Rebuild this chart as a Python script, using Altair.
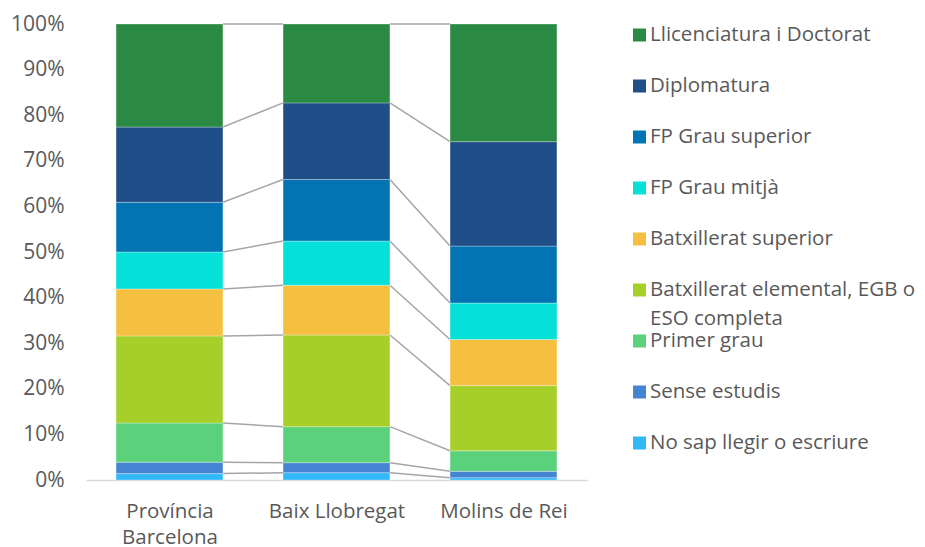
import json
import altair as alt
import pandas as pd

# ---- data ----
categories = ["Província\nBarcelona", "Baix Llobregat", "Molins de Rei"]
series = [
    "No sap llegir o escriure",
    "Sense estudis",
    "Primer grau",
    "Batxillerat elemental, EGB o ESO completa",
    "Batxillerat superior",
    "FP Grau mitjà",
    "FP Grau superior",
    "Diplomatura",
    "Llicenciatura i Doctorat",
]
prov_barcelona = [1.4, 2.5, 8.6, 19.1, 10.3, 8.1, 10.9, 16.5, 22.6]
baix_llobregat = [1.6, 2.2, 7.9, 20.1, 10.9, 9.7, 13.5, 16.8, 17.3]
molins_de_rei = [0.5, 1.4, 4.5, 14.3, 10.1, 8.0, 12.5, 22.9, 25.8]
colors = ["#30B8F8", "#4584D3", "#5BD17B", "#A6CF2A", "#F5BF40",
          "#05E0D8", "#0274B3", "#204E89", "#2A8A43"]
y_ticks = [0, 0.1, 0.2, 0.3, 0.4, 0.5, 0.6, 0.7, 0.8, 0.9, 1.0]

values = [prov_barcelona, baix_llobregat, molins_de_rei]
HALF = 0.32  # half bar width in category units

# ---- tables ----
rows = []
for ci, vals in enumerate(values):
    tot = sum(vals)
    cum = 0.0
    for s, v in zip(series, vals):
        rows.append({"cat": ci, "series": s, "lo": cum / tot, "hi": (cum + v) / tot})
        cum += v
bars_df = pd.DataFrame(rows)

link_rows = []
for si, s in enumerate(series):
    for ci in range(len(values) - 1):
        a = bars_df[(bars_df.cat == ci) & (bars_df.series == s)].iloc[0]
        b = bars_df[(bars_df.cat == ci + 1) & (bars_df.series == s)].iloc[0]
        link_rows.append({"series": s, "c0": ci, "c1": ci + 1, "y0": a.hi, "y1": b.hi})
links_df = pd.DataFrame(link_rows)

legend_order = list(reversed(series))
legend_df = pd.DataFrame({
    "series": legend_order,
    "label": [s.replace(", EGB o ", ", EGB o\n") for s in legend_order],
})

FONT = "Open Sans"
GREY = "#595959"
FS = 20.5

color_scale = alt.Scale(domain=series, range=colors)
label_arr = json.dumps([c.split("\n") for c in categories], ensure_ascii=False)

x_enc = alt.X(
    "x0:Q",
    scale=alt.Scale(domain=[-0.5, 2.5], nice=False, zero=False),
    axis=alt.Axis(
        values=[0, 1, 2], ticks=False, grid=False, title=None,
        domainColor="#D9D9D9", domainWidth=1.5,
        labelExpr=f"{label_arr}[datum.value]",
        labelFont=FONT, labelFontSize=FS, labelColor=GREY,
        labelLineHeight=26, labelPadding=21,
    ),
)
y_scale = alt.Scale(domain=[0, 1], nice=False)
y_axis = alt.Axis(
    values=y_ticks, format=".0%", ticks=False, grid=False, domain=False,
    title=None, labelFont=FONT, labelFontSize=21, labelColor=GREY, labelPadding=22,
)

bars = alt.Chart(bars_df).transform_calculate(
    x0=f"datum.cat - {HALF}", x1=f"datum.cat + {HALF}"
).mark_rect(stroke="white", strokeWidth=0.6, strokeOpacity=0.5).encode(
    x=x_enc,
    x2="x1:Q",
    y=alt.Y("lo:Q", scale=y_scale, axis=y_axis),
    y2="hi:Q",
    color=alt.Color("series:N", scale=color_scale, legend=None),
)

links = alt.Chart(links_df).transform_calculate(
    x0=f"datum.c0 + {HALF}", x1=f"datum.c1 - {HALF}"
).mark_rule(color="#A5A5A5", strokeWidth=1.5).encode(
    x=alt.X("x0:Q"),
    x2="x1:Q",
    y=alt.Y("y0:Q"),
    y2="y1:Q",
)

main = alt.layer(links, bars)

leg_y = alt.Y("series:N", sort=legend_order,
              scale=alt.Scale(type="point", range=[11, 419], padding=0), axis=None)
leg_sq = alt.Chart(legend_df).mark_square(size=169, opacity=1).encode(
    x=alt.value(553.5),
    y=leg_y,
    color=alt.Color("series:N", scale=color_scale, legend=None),
)
leg_tx = alt.Chart(legend_df).mark_text(
    align="left", baseline="line-top", dy=-14.5, lineHeight=29, lineBreak="\n",
    font=FONT, fontSize=FS, color=GREY,
).encode(
    x=alt.value(564),
    y=leg_y,
    text="label:N",
)
legend = alt.layer(leg_sq, leg_tx)

chart = alt.layer(main, legend).resolve_scale(y="independent").properties(
    width=501, height=456,
    autosize=alt.AutoSizeParams(type="none"),
    padding={"left": 78, "top": 16, "right": 330, "bottom": 80},
).configure_view(stroke=None)

chart.save("out.html", embed_options={"renderer": "svg", "actions": False})
